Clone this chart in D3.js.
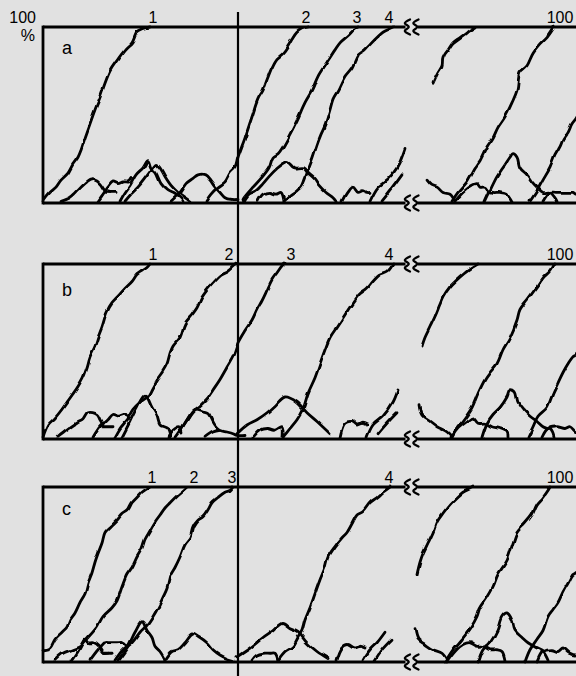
<!DOCTYPE html>
<html>
<head>
<meta charset="utf-8">
<script src="https://cdn.jsdelivr.net/npm/d3@7/dist/d3.min.js"></script>
<style>
  html, body { margin: 0; padding: 0; background: #e1e1e1; }
  svg { display: block; }
  text { font-family: "Liberation Sans", Arial, Helvetica, sans-serif; fill: #000; }
</style>
</head>
<body>
<svg id="chart" width="576" height="676"></svg>
<script>
// Allele frequency trajectories (percent) over time, three simulation runs.
// Each trajectory is a list of [time, percent] samples.

const panelNames = ["a", "b", "c"];
const fixLabels = ["1", "2", "3", "4", "100"];
// time at which each numbered substitution reaches fixation (label position)
const fixTimesA = [110, 263, 314, 346, 517];
const fixTimesB = [110, 186, 248, 346, 517];
const fixTimesC = [109, 151, 189, 346, 517];

const trajA = [
  [[0,1],[7,6],[13,9],[18,13],[25,17],[30,22],[35,26],[38,30],[42,37],[47,45],[52,53],[57,60],[62,68],[67,75],[74,81],[82,87],[89,91],[94,97],[100,99],[107,100]],
  [[163,1],[168,5],[175,9],[182,12],[187,17],[192,20],[195,26],[202,37],[209,49],[215,59],[220,64],[224,70],[229,77],[234,82],[240,85],[245,89],[249,93],[254,97],[259,99],[265,100]],
  [[200,2],[201,3],[210,9],[218,14],[226,20],[230,26],[235,28],[240,32],[245,37],[254,47],[262,57],[269,64],[275,72],[284,80],[292,87],[297,91],[305,95],[312,99],[315,100]],
  [[241,1],[247,4],[254,7],[259,10],[262,14],[266,20],[270,26],[274,33],[278,39],[282,44],[287,53],[290,59],[295,64],[302,72],[309,77],[315,84],[322,87],[327,90],[334,94],[340,97],[347,99],[351,100]],
  [[201,1],[206,5],[213,7],[220,11],[226,15],[233,19],[240,22],[245,23],[251,20],[260,20],[265,17],[271,14],[276,10],[283,6],[290,3],[293,1]],
  [[215,1],[220,5],[226,6],[233,5],[238,6],[241,1]],
  [[299,1],[304,6],[309,9],[314,6],[319,7],[324,6],[327,6]],
  [[327,1],[335,9],[344,13],[354,20],[362,31]],
  [[339,1],[350,9],[359,16]],
  [[18,1],[27,3],[33,6],[40,10],[47,13],[52,13],[57,11],[62,7],[67,6]],
  [[63,6],[73,6]],
  [[55,1],[60,5],[65,9],[70,12],[75,11],[80,12],[85,12],[88,14]],
  [[77,1],[82,6],[87,10],[93,16],[100,20],[105,24],[108,20],[113,17],[118,11],[125,7],[132,5],[137,3],[140,1]],
  [[82,1],[88,5],[95,9],[102,14],[110,20],[113,22],[117,20],[122,15],[128,10],[135,6],[142,3],[147,1]],
  [[128,1],[137,6],[143,11],[150,14],[155,16],[162,16],[167,13],[172,9],[177,6],[182,3],[188,2],[195,2]],
  [[390,68],[394,73],[399,78],[400,83],[405,87],[410,91],[417,94],[424,97],[429,99],[432,100]],
  [[409,1],[415,6],[424,12],[432,20],[437,24],[444,32],[450,37],[455,43],[462,49],[469,57],[474,64],[477,74],[484,78],[490,85],[497,90],[504,94],[509,98],[511,100]],
  [[487,1],[494,7],[500,13],[507,20],[512,27],[517,32],[520,36],[525,40],[529,45],[533,48],[537,52]],
  [[384,13],[389,10],[394,9],[400,6],[407,5],[410,3],[412,1]],
  [[412,1],[420,6],[429,10],[434,11],[437,9],[442,9],[445,7],[450,6],[457,6],[464,5],[469,1]],
  [[442,1],[447,7],[454,15],[460,20],[467,26],[470,28],[474,26],[477,20],[484,16],[489,12],[494,9],[500,6],[507,6],[512,3],[514,1]],
  [[500,1],[507,6],[514,6],[520,6],[525,6],[530,6],[533,5],[537,5]]
];

const trajB = [
  [[0,1],[5,8],[12,12],[19,17],[24,21],[29,25],[35,30],[40,35],[44,41],[47,47],[52,53],[55,58],[59,64],[64,73],[69,78],[74,81],[82,86],[89,90],[94,94],[99,96],[104,98],[107,100]],
  [[72,1],[77,6],[84,11],[90,17],[97,21],[104,24],[109,29],[114,34],[119,38],[124,43],[127,49],[130,53],[137,58],[142,66],[149,71],[154,75],[159,81],[164,85],[170,89],[177,93],[184,95],[190,98],[194,100]],
  [[132,1],[137,5],[142,9],[149,15],[157,19],[164,23],[170,28],[177,34],[184,41],[190,47],[195,55],[202,62],[209,68],[214,74],[219,79],[224,85],[229,91],[234,95],[239,99],[241,100]],
  [[240,1],[247,6],[254,11],[260,17],[265,26],[272,35],[277,43],[282,51],[287,58],[294,64],[302,71],[310,78],[317,83],[324,86],[330,90],[337,94],[345,96],[350,100]],
  [[194,3],[204,8],[214,11],[224,15],[232,19],[242,24],[254,21],[264,15],[274,10],[287,3]],
  [[210,1],[217,5],[225,6],[232,5],[239,7],[240,1]],
  [[297,1],[302,9],[309,10],[314,8],[319,9],[324,8]],
  [[324,1],[330,8],[340,13],[350,21],[355,28]],
  [[335,3],[344,9],[354,15]],
  [[15,1],[24,5],[34,9],[40,11],[45,15],[54,14],[57,11],[60,8]],
  [[60,7],[70,7]],
  [[50,1],[57,7],[64,11],[69,14],[75,13],[82,14],[85,11]],
  [[79,1],[87,10],[94,18],[102,25],[109,18],[114,13],[117,8],[124,6],[127,1]],
  [[125,1],[130,5],[137,7],[139,4]],
  [[137,4],[144,11],[152,17],[160,16],[165,15],[169,11],[172,8],[177,5],[184,4],[190,3],[194,2],[202,2]],
  [[162,1],[170,4],[177,5]],
  [[379,53],[382,58],[387,64],[392,70],[397,77],[400,81],[407,87],[414,91],[422,95],[429,98],[435,100]],
  [[407,1],[414,6],[422,12],[429,18],[435,26],[442,34],[447,38],[454,43],[460,51],[467,58],[474,68],[477,74],[485,80],[494,87],[500,92],[507,96],[511,100]],
  [[485,1],[490,7],[495,13],[504,18],[510,26],[515,32],[520,38],[525,43],[530,47],[533,48],[537,51]],
  [[377,19],[380,13],[387,10],[394,7],[404,4],[409,1]],
  [[409,1],[415,6],[424,10],[430,12],[435,9],[442,9],[449,7],[457,6],[464,4],[465,1]],
  [[439,1],[444,9],[450,14],[457,18],[464,24],[467,28],[472,27],[475,21],[480,17],[487,13],[494,10],[500,7],[507,5],[510,1]],
  [[499,1],[505,6],[514,7],[522,6],[527,7],[533,4],[537,5]]
];

const trajC = [
  [[0,7],[7,8],[12,13],[19,17],[24,20],[27,24],[32,28],[37,34],[42,39],[45,45],[49,51],[52,57],[55,62],[59,68],[62,74],[67,77],[74,81],[80,85],[85,87],[89,91],[94,94],[99,97],[104,99],[107,100]],
  [[29,1],[35,6],[40,11],[45,14],[54,20],[60,26],[69,31],[74,35],[79,43],[84,50],[89,54],[94,60],[99,65],[102,70],[107,75],[112,80],[117,84],[122,88],[127,91],[134,95],[140,98],[144,100]],
  [[72,1],[80,7],[89,11],[97,17],[104,21],[110,26],[115,31],[120,37],[124,42],[127,49],[132,54],[137,60],[142,67],[147,71],[150,77],[155,81],[160,83],[165,87],[169,91],[175,94],[182,97],[187,98],[190,100]],
  [[235,1],[242,6],[250,9],[255,14],[259,18],[262,24],[267,31],[272,39],[277,47],[282,54],[285,60],[292,66],[299,71],[304,74],[309,79],[314,84],[320,86],[327,91],[334,94],[340,97],[347,100]],
  [[12,1],[20,5],[29,7],[37,9],[42,13],[45,11],[50,11],[55,9],[60,5],[65,5]],
  [[60,5],[70,5]],
  [[47,1],[55,7],[62,11],[67,11],[74,11],[80,11],[84,9]],
  [[75,1],[85,9],[92,17],[99,23],[104,18],[109,14],[112,9],[117,6],[122,1]],
  [[122,1],[129,6],[135,7],[142,11],[150,16],[157,14],[164,11],[170,7],[177,4],[184,2],[190,1]],
  [[194,3],[207,8],[220,14],[230,18],[239,22],[247,19],[255,17],[264,11],[274,6],[285,2]],
  [[209,1],[214,4],[220,5],[227,5],[232,5],[235,1]],
  [[294,1],[299,8],[305,10],[312,8],[317,9],[322,8]],
  [[320,1],[327,7],[334,11],[342,17]],
  [[332,1],[339,7],[349,13]],
  [[374,50],[377,57],[380,62],[385,68],[390,74],[394,80],[400,85],[407,90],[414,94],[420,97],[427,99],[430,100]],
  [[402,0],[410,7],[419,13],[427,19],[434,26],[437,31],[444,37],[450,43],[455,50],[464,58],[470,68],[474,74],[482,79],[489,84],[494,90],[500,94],[505,98],[507,100]],
  [[482,0],[487,7],[494,13],[500,18],[505,26],[510,30],[515,34],[520,40],[525,45],[530,50],[533,51],[537,53]],
  [[372,19],[375,13],[382,10],[390,7],[399,5],[404,1]],
  [[404,0],[412,6],[420,10],[427,11],[434,9],[440,9],[447,7],[454,7],[459,6],[462,1]],
  [[435,0],[440,7],[447,11],[454,18],[459,26],[464,28],[469,24],[472,18],[479,14],[485,11],[494,8],[500,6],[505,1]],
  [[494,0],[500,6],[509,7],[515,6],[520,8],[527,5],[533,4],[537,5]]
];

// ---- layout ----
const W = 576, H = 676;
const left = 43, right = 576;
const panelBoxes = [
  { top: 27, bottom: 203, nameBase: 54, labelBase: 23 },
  { top: 264, bottom: 439, nameBase: 296, labelBase: 260 },
  { top: 487, bottom: 662, nameBase: 515, labelBase: 483 }
];
const allTraj = [trajA, trajB, trajC];
const allFix = [fixTimesA, fixTimesB, fixTimesC];
const breakTimes = [364, 372.5];   // time axis discontinuity marks
const epochLine = 195;             // reference time drawn across all runs

const svg = d3.select("#chart");
const x = d3.scaleLinear().domain([0, right - left]).range([left, right]);

const defs = svg.append("defs");
// gently wavy pen stroke for the trajectories (ink-line look)
const ink = defs.append("filter").attr("id", "ink")
  .attr("filterUnits", "userSpaceOnUse")
  .attr("x", 0).attr("y", 0).attr("width", W).attr("height", H);
ink.append("feTurbulence").attr("type", "fractalNoise")
  .attr("baseFrequency", 0.075).attr("numOctaves", 1).attr("seed", 7).attr("result", "noise");
ink.append("feDisplacementMap").attr("in", "SourceGraphic").attr("in2", "noise")
  .attr("scale", 4).attr("xChannelSelector", "R").attr("yChannelSelector", "G");

// squiggle used for the axis break
const squiggle = d3.line().curve(d3.curveCatmullRom.alpha(0.5));
const squigglePts = [[3, -7.5], [-2.2, -3.8], [1.8, 0], [-2.2, 3.8], [3, 7.5]];

panelBoxes.forEach((p, i) => {
  const y = d3.scaleLinear().domain([0, 100]).range([p.bottom, p.top]);
  const g = svg.append("g");

  const line = d3.line()
    .x(d => x(d[0]))
    .y(d => y(d[1]))
    .curve(d3.curveCatmullRom.alpha(0.5));

  g.append("g").attr("filter", "url(#ink)")
    .selectAll("path.traj")
    .data(allTraj[i])
    .join("path")
    .attr("class", "traj")
    .attr("d", line)
    .attr("fill", "none")
    .attr("stroke", "#000")
    .attr("stroke-width", 2.8)
    .attr("stroke-linejoin", "round")
    .attr("stroke-linecap", "round");

  // frame: left edge, top and bottom edges broken at the time discontinuity
  const xb0 = x(breakTimes[0]) - 1.5, xb1 = x(breakTimes[1]) + 2.5;
  const frame = g.append("g").attr("stroke", "#000").attr("stroke-width", 2.8).attr("fill", "none");
  frame.append("line").attr("x1", x(0)).attr("x2", x(0)).attr("y1", y(100) - 1.4).attr("y2", y(0) + 1.4);
  [100, 0].forEach(v => {
    frame.append("line").attr("x1", x(0)).attr("x2", xb0).attr("y1", y(v)).attr("y2", y(v));
    frame.append("line").attr("x1", xb1).attr("x2", W + 5).attr("y1", y(v)).attr("y2", y(v));
    breakTimes.forEach(bt => {
      g.append("path")
        .attr("d", squiggle(squigglePts.map(q => [x(bt) + q[0], y(v) + q[1]])))
        .attr("fill", "none").attr("stroke", "#000").attr("stroke-width", 2.3)
        .attr("stroke-linecap", "round");
    });
  });

  // fixation labels above the panel
  svg.selectAll("text.fix" + i)
    .data(fixLabels)
    .join("text")
    .attr("class", "fix" + i)
    .attr("x", (d, j) => x(allFix[i][j]))
    .attr("y", p.labelBase)
    .attr("text-anchor", "middle")
    .attr("font-size", 16)
    .text(d => d);

  svg.append("text")
    .attr("x", x(0) + 19)
    .attr("y", p.nameBase)
    .attr("font-size", 18)
    .text(panelNames[i]);
});

// percent axis caption
svg.append("text").attr("x", 36).attr("y", 23).attr("text-anchor", "end").attr("font-size", 16).text("100");
svg.append("text").attr("x", 35).attr("y", 41).attr("text-anchor", "end").attr("font-size", 16).text("%");

// vertical reference line through all three runs
svg.append("line")
  .attr("x1", x(epochLine)).attr("x2", x(epochLine))
  .attr("y1", 12).attr("y2", H)
  .attr("stroke", "#000").attr("stroke-width", 2.2);
</script>
</body>
</html>
